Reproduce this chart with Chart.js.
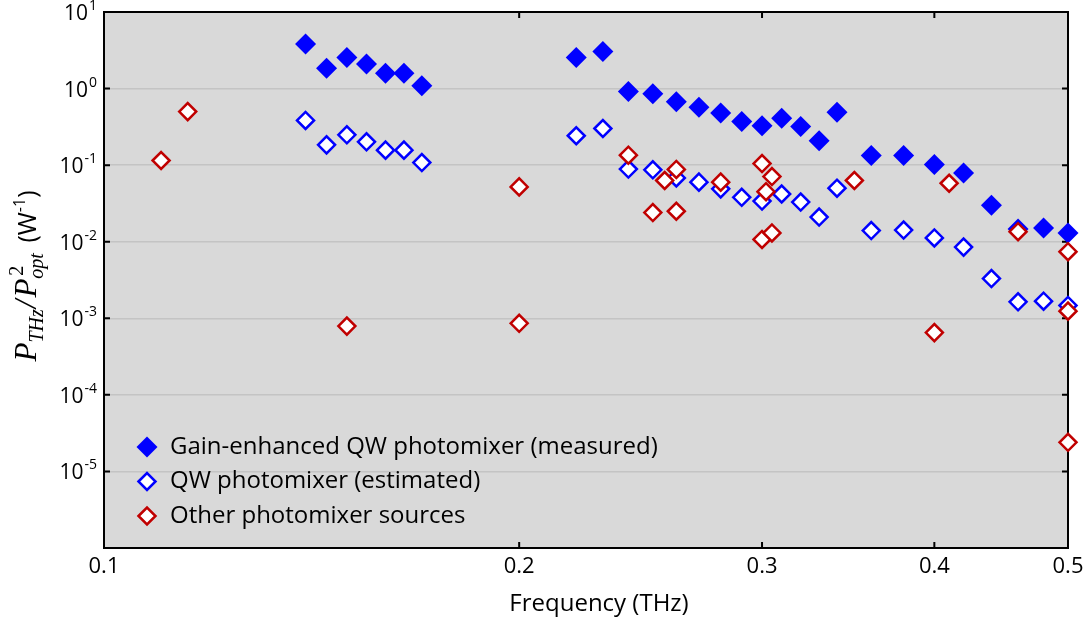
<!DOCTYPE html>
<html>
<head>
<meta charset="utf-8">
<script src="https://cdn.jsdelivr.net/npm/chart.js@4.4.1/dist/chart.umd.min.js"></script>
<style>
  html, body { margin: 0; padding: 0; background: #fff; }
</style>
</head>
<body>
<canvas id="chart" width="1092" height="626"></canvas>
<script>
// frequencies in THz, power ratio in W^-1
var freqQW = [0.14, 0.145, 0.15, 0.155, 0.16, 0.165, 0.17,
              0.22, 0.23, 0.24, 0.25, 0.26, 0.27, 0.28, 0.29, 0.30, 0.31, 0.32, 0.33, 0.34,
              0.36, 0.38, 0.40, 0.42, 0.44, 0.46, 0.48, 0.50];
var gainMeasured = [3.83, 1.84, 2.54, 2.10, 1.59, 1.59, 1.09,
                    2.54, 3.04, 0.914, 0.853, 0.671, 0.572, 0.478, 0.371, 0.327, 0.411, 0.320, 0.208, 0.492,
                    0.134, 0.134, 0.102, 0.079, 0.030, 0.0147, 0.0151, 0.013];
var qwEstimated = [0.383, 0.184, 0.249, 0.202, 0.157, 0.157, 0.108,
                   0.242, 0.301, 0.089, 0.087, 0.068, 0.060, 0.049, 0.038, 0.034, 0.042, 0.033, 0.021, 0.050,
                   0.014, 0.0142, 0.0112, 0.0085, 0.0033, 0.00164, 0.00167, 0.00147];
var freqOther = [0.11, 0.115, 0.15, 0.20, 0.20, 0.24, 0.25, 0.255, 0.26, 0.26, 0.28,
                 0.30, 0.30, 0.302, 0.305, 0.305, 0.35, 0.40, 0.41, 0.46, 0.50, 0.50, 0.50];
var otherSources = [0.115, 0.50, 7.9e-4, 0.052, 8.6e-4, 0.135, 0.024, 0.063, 0.088, 0.025, 0.060,
                    0.105, 0.0107, 0.045, 0.071, 0.013, 0.063, 6.5e-4, 0.058, 0.0135, 0.0074, 0.00124, 2.4e-5];

var seriesNames = ['Gain-enhanced QW photomixer (measured)', 'QW photomixer (estimated)', 'Other photomixer sources'];
var xTicks = [0.1, 0.2, 0.3, 0.4, 0.5];
var yExponents = [-6, -5, -4, -3, -2, -1, 0, 1];

var SANS = "'Open Sans', sans-serif";
var SERIF = "'Liberation Serif', serif";
var BLUE = '#0000ff';
var RED = '#c00000';

function pairs(xs, ys) {
    return xs.map(function (x, i) { return { x: x, y: ys[i] }; });
}

function diamond(ctx, x, y, r) {
    ctx.beginPath();
    ctx.moveTo(x - r, y);
    ctx.lineTo(x, y - r);
    ctx.lineTo(x + r, y);
    ctx.lineTo(x, y + r);
    ctx.closePath();
}

// runs of text with their own font and baseline shift
function drawRuns(ctx, runs, x, y) {
    runs.forEach(function (r) {
        ctx.font = r.font;
        ctx.fillText(r.text, x, y + (r.dy || 0));
        x += ctx.measureText(r.text).width + (r.gap || 0);
    });
    return x;
}
function runsWidth(ctx, runs) {
    var w = 0;
    runs.forEach(function (r) {
        ctx.font = r.font;
        w += ctx.measureText(r.text).width + (r.gap || 0);
    });
    return w;
}

var framePlugin = {
    id: 'frame',
    beforeDraw: function (chart) {
        var a = chart.chartArea, ctx = chart.ctx;
        ctx.save();
        ctx.fillStyle = '#d9d9d9';
        ctx.fillRect(a.left, a.top, a.right - a.left, a.bottom - a.top);
        ctx.restore();
    },
    beforeDatasetsDraw: function (chart) {
        var a = chart.chartArea, ctx = chart.ctx;
        var xs = chart.scales.x, ys = chart.scales.y;
        ctx.save();
        ctx.strokeStyle = '#000';
        ctx.lineWidth = 2;
        ctx.strokeRect(a.left, a.top, a.right - a.left, a.bottom - a.top);
        ctx.beginPath();
        yExponents.forEach(function (e) {
            var py = ys.getPixelForValue(Math.pow(10, e));
            ctx.moveTo(a.left, py); ctx.lineTo(a.left + 6, py);
            ctx.moveTo(a.right, py); ctx.lineTo(a.right - 6, py);
        });
        xTicks.forEach(function (t) {
            var px = xs.getPixelForValue(t);
            ctx.moveTo(px, a.bottom); ctx.lineTo(px, a.bottom - 6);
            ctx.moveTo(px, a.top); ctx.lineTo(px, a.top + 6);
        });
        ctx.stroke();
        ctx.restore();
    },
    afterDraw: function (chart) {
        var ctx = chart.ctx;
        var ys = chart.scales.y;
        ctx.save();
        ctx.fillStyle = '#000';

        // decade labels 10^n
        ctx.textBaseline = 'alphabetic';
        yExponents.slice(1).forEach(function (e) {
            var py = ys.getPixelForValue(Math.pow(10, e));
            var runs = [
                { text: '10', font: '21px ' + SANS, dy: 8, gap: 1 },
                { text: String(e), font: '14px ' + SANS, dy: -2 }
            ];
            drawRuns(ctx, runs, 97 - runsWidth(ctx, runs), py);
        });

        // y axis title
        ctx.save();
        ctx.translate(36, 276);
        ctx.rotate(-Math.PI / 2);
        var it = 'italic 31px ' + SERIF, sub = 'italic 20px ' + SERIF;
        var title = [
            { text: 'P', font: it },
            { text: 'THz', font: sub, dy: 7, gap: 1 },
            { text: '/', font: it, gap: 2 },
            { text: 'P', font: it }
        ];
        var tail = [
            { text: ' (W', font: '25px ' + SANS },
            { text: '-1', font: '16px ' + SANS, dy: -11 },
            { text: ')', font: '25px ' + SANS }
        ];
        ctx.font = sub;
        var optW = ctx.measureText('opt').width + 4;
        var total = runsWidth(ctx, title) + optW + runsWidth(ctx, tail);
        var tx = drawRuns(ctx, title, -total / 2, 0);
        ctx.font = '20px ' + SERIF;
        ctx.fillText('2', tx + 3, -13);
        ctx.font = sub;
        ctx.fillText('opt', tx, 7);
        drawRuns(ctx, tail, tx + optW, 0);
        ctx.restore();

        // x axis title
        ctx.font = '24px ' + SANS;
        ctx.textAlign = 'center';
        ctx.textBaseline = 'middle';
        ctx.fillText('Frequency (THz)', 599, 604);

        // legend inside the plot
        var styles = [
            { fill: BLUE, stroke: BLUE, r: 10.5, w: 0 },
            { fill: '#fff', stroke: BLUE, r: 8.5, w: 2.5 },
            { fill: '#fff', stroke: RED, r: 8.5, w: 2.5 }
        ];
        ctx.textAlign = 'left';
        seriesNames.forEach(function (name, i) {
            var ly = 447 + i * 34.5, s = styles[i];
            diamond(ctx, 147, ly, s.r);
            ctx.fillStyle = s.fill;
            ctx.fill();
            if (s.w) {
                ctx.lineWidth = s.w;
                ctx.strokeStyle = s.stroke;
                ctx.stroke();
            }
            ctx.fillStyle = '#000';
            ctx.font = '24px ' + SANS;
            ctx.fillText(name, 170, ly);
        });
        ctx.restore();
    }
};

new Chart(document.getElementById('chart'), {
    type: 'scatter',
    data: {
        datasets: [
            {
                label: seriesNames[2],
                data: pairs(freqOther, otherSources),
                pointStyle: 'rectRot',
                pointRadius: 8.5,
                borderWidth: 2.5,
                borderColor: RED,
                backgroundColor: '#fff'
            },
            {
                label: seriesNames[1],
                data: pairs(freqQW, qwEstimated),
                pointStyle: 'rectRot',
                pointRadius: 8.5,
                borderWidth: 2.5,
                borderColor: BLUE,
                backgroundColor: '#fff'
            },
            {
                label: seriesNames[0],
                data: pairs(freqQW, gainMeasured),
                pointStyle: 'rectRot',
                pointRadius: 10.5,
                borderWidth: 0,
                borderColor: BLUE,
                backgroundColor: BLUE
            }
        ]
    },
    options: {
        responsive: false,
        animation: false,
        clip: false,
        layout: { padding: { top: 12, right: 24, left: 0, bottom: 0 } },
        plugins: {
            legend: { display: false },
            tooltip: { enabled: false }
        },
        scales: {
            x: {
                type: 'logarithmic',
                min: 0.1,
                max: 0.5,
                afterBuildTicks: function (scale) {
                    scale.ticks = xTicks.map(function (v) { return { value: v }; });
                },
                afterFit: function (scale) { scale.height = 78; },
                grid: { display: false, drawTicks: false },
                border: { display: false },
                ticks: {
                    color: '#000',
                    font: { family: SANS, size: 22 },
                    padding: 6,
                    maxRotation: 0,
                    autoSkip: false,
                    callback: function (v) { return String(v); }
                }
            },
            y: {
                type: 'logarithmic',
                min: 1e-6,
                max: 10,
                afterBuildTicks: function (scale) {
                    scale.ticks = yExponents.map(function (e) { return { value: Math.pow(10, e) }; });
                },
                afterFit: function (scale) { scale.width = 104; },
                grid: { color: '#c4c4c4', lineWidth: 1.5, drawTicks: false },
                border: { display: false },
                ticks: { display: false }
            }
        }
    },
    plugins: [framePlugin]
});
</script>
</body>
</html>
